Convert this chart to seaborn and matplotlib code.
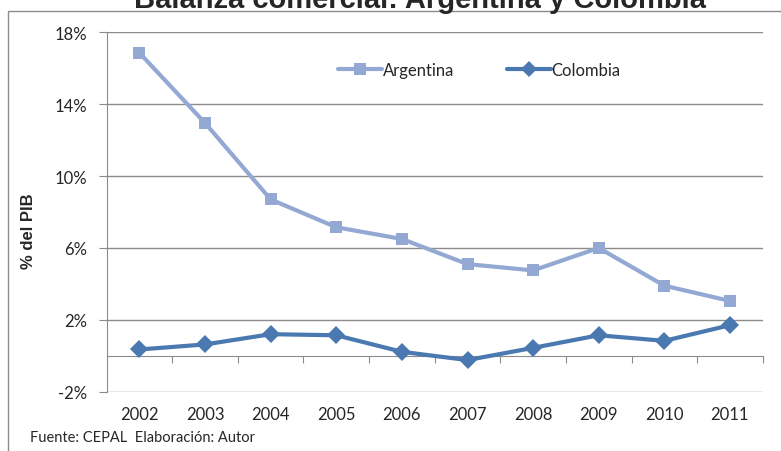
import matplotlib

matplotlib.use("Agg")
import matplotlib.pyplot as plt
import pandas as pd
import seaborn as sns
from matplotlib.patches import Rectangle
from matplotlib.ticker import FuncFormatter

# %% Data (% of GDP)
years = ["2002", "2003", "2004", "2005", "2006", "2007", "2008", "2009", "2010", "2011"]
argentina = [16.85, 12.95, 8.7, 7.15, 6.5, 5.1, 4.75, 6.0, 3.9, 3.05]
colombia = [0.35, 0.63, 1.2, 1.14, 0.22, -0.24, 0.44, 1.14, 0.83, 1.7]
y_ticks = [-2, 2, 6, 10, 14, 18]

df = pd.DataFrame(
    {
        "year": years * 2,
        "value": argentina + colombia,
        "pais": ["Argentina"] * len(years) + ["Colombia"] * len(years),
    }
)

# %% Plot
sns.set_style("white")
plt.rcParams["font.family"] = ["Lato", "DejaVu Sans"]

fig = plt.figure(figsize=(7.81, 4.52), dpi=100)
ax = fig.add_axes([0.1366, 0.1312, 0.84, 0.7951])

palette = {"Argentina": "#93A9D3", "Colombia": "#4A78B0"}
sns.lineplot(
    data=df,
    x="year",
    y="value",
    hue="pais",
    style="pais",
    palette=palette,
    markers={"Argentina": "s", "Colombia": "D"},
    dashes=False,
    markersize=9,
    markeredgewidth=0,
    linewidth=3,
    ax=ax,
    legend=False,
    sort=False,
)

ax.set_xlim(-0.5, len(years) - 0.5)
ax.set_ylim(y_ticks[0], y_ticks[-1])
ax.set_yticks(y_ticks)
ax.yaxis.set_major_formatter(FuncFormatter(lambda v, _: f"{v:.0f}%"))
ax.grid(axis="y", color="#8c8c8c", lw=1)
ax.set_axisbelow(True)
for side in ["top", "right", "bottom"]:
    ax.spines[side].set_visible(False)
ax.spines["left"].set_color("#8c8c8c")
ax.tick_params(axis="y", length=6, color="#8c8c8c", labelsize=12, pad=8, left=True)
ax.tick_params(axis="x", length=0, labelsize=12, pad=10)
ax.set_xlabel("")
ax.set_ylabel("% del PIB", fontsize=12, fontweight="bold", family="Liberation Sans")
ax.yaxis.set_label_coords(-0.107, 0.45)

# x axis line at 0 with tick marks between categories
zero_pos = (0 - y_ticks[0]) / (y_ticks[-1] - y_ticks[0])
sec = ax.secondary_xaxis(zero_pos)
sec.set_xticks([i + 0.5 for i in range(len(years))])
sec.set_xticklabels([])
sec.tick_params(length=5, color="#8c8c8c", direction="out")
sec.spines["bottom"].set_color("#8c8c8c")

# legend
handles = [
    plt.Line2D([], [], color=palette["Argentina"], marker="s", lw=3, markersize=9, markeredgewidth=0),
    plt.Line2D([], [], color=palette["Colombia"], marker="D", lw=3, markersize=8, markeredgewidth=0),
]
fig.legend(
    handles,
    ["Argentina", "Colombia"],
    loc="center",
    bbox_to_anchor=(0.614, 0.843),
    ncol=2,
    frameon=False,
    fontsize=12,
    handlelength=2.6,
    handletextpad=0.05,
    columnspacing=3.2,
)

# outer chart border
fig.add_artist(
    Rectangle((8 / 781, -0.1), 1.2, 1.1 - 12 / 452, transform=fig.transFigure,
              fill=False, edgecolor="#8c8c8c", lw=1)
)

fig.text(0.538, 0.982, "Balanza comercial: Argentina y Colombia", ha="center", va="baseline",
         fontsize=21, fontweight="bold", family="Liberation Sans")
fig.text(30 / 781, 0.015, "Fuente: CEPAL  Elaboración: Autor", ha="left", va="bottom",
         fontsize=10.5)

plt.savefig("out.png", dpi=100)
plt.close()
